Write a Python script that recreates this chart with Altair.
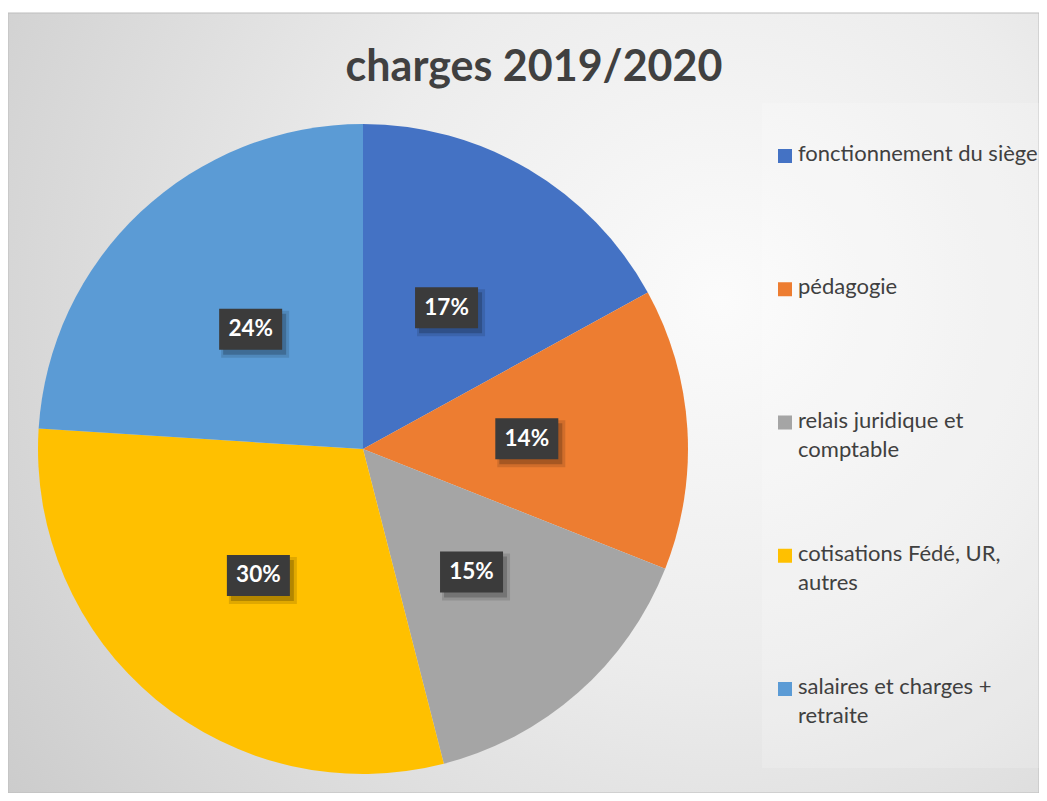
import math
import altair as alt
import pandas as pd

# ---------------- data ----------------
categories = [
    "fonctionnement du siège",
    "pédagogie",
    "relais juridique et comptable",
    "cotisations Fédé, UR, autres",
    "salaires et charges + retraite",
]
legend_texts = [
    "fonctionnement du siège",
    "pédagogie",
    "relais juridique et\ncomptable",
    "cotisations Fédé, UR,\nautres",
    "salaires et charges +\nretraite",
]
values = [17, 14, 15, 30, 24]
labels = ["17%", "14%", "15%", "30%", "24%"]
colors = ["#4472C4", "#ED7D31", "#A5A5A5", "#FFC000", "#5B9BD5"]
title_text = "charges 2019/2020"

# ---------------- layout ----------------
W, H = 1031, 785
CX, CY, R = 355, 441, 325
LABEL_FRAC = 0.505
BOX_HW, BOX_HH = 31.5 / R, 20.5 / R

total = sum(values)
rows = []
cum = 0
for i, (c, v, lab) in enumerate(zip(categories, values, labels)):
    mid = (cum + v / 2) / total * 2 * math.pi
    cum += v
    lx = LABEL_FRAC * math.sin(mid)
    ly = LABEL_FRAC * math.cos(mid)
    rows.append(dict(idx=i, cat=c, value=v, label=lab, legtext=legend_texts[i],
                     lx=lx, ly=ly,
                     bx1=lx - BOX_HW, bx2=lx + BOX_HW, by1=ly - BOX_HH, by2=ly + BOX_HH,
                     sx1=lx - BOX_HW + 4 / R, sx2=lx + BOX_HW + 4 / R,
                     sy1=ly - BOX_HH - 5 / R, sy2=ly + BOX_HH - 5 / R,
                     tx1=lx - BOX_HW + 2 / R, tx2=lx + BOX_HW + 7 / R,
                     ty1=ly - BOX_HH - 8 / R, ty2=ly + BOX_HH - 2 / R))
df = pd.DataFrame(rows)
one = pd.DataFrame({"a": [0]})

xs = alt.Scale(domain=[-CX / R, (W - CX) / R], range=[0, W], nice=False, zero=False)
ys = alt.Scale(domain=[-(H - CY) / R, CY / R], range=[H, 0], nice=False, zero=False)
color_scale = alt.Scale(domain=categories, range=colors)

gradient = {
    "gradient": "radial",
    "x1": 0.69, "y1": 0.40, "r1": 0,
    "x2": 0.69, "y2": 0.40, "r2": 0.9,
    "stops": [
        {"offset": 0.0, "color": "#fbfbfb"},
        {"offset": 0.4, "color": "#ececec"},
        {"offset": 1.0, "color": "#c8c8c8"},
    ],
}

bg = alt.Chart(one).mark_rect(fill=gradient, stroke="#bdbdbd", strokeWidth=1).encode(
    x=alt.value(0), x2=alt.value(W), y=alt.value(5), y2=alt.value(H)
)

panel = alt.Chart(one).mark_rect(fill="white", opacity=0.18).encode(
    x=alt.value(754), x2=alt.value(W), y=alt.value(95), y2=alt.value(760)
)

pie = alt.Chart(df).mark_arc(outerRadius=R).encode(
    theta=alt.Theta("value:Q", stack=True),
    color=alt.Color("cat:N", scale=color_scale, legend=None),
    order=alt.Order("idx:Q"),
    x=alt.value(CX),
    y=alt.value(CY),
)

shadow2 = alt.Chart(df).mark_rect(fill="black", opacity=0.12).encode(
    x=alt.X("tx1:Q", scale=xs, axis=None), x2="tx2:Q",
    y=alt.Y("ty1:Q", scale=ys, axis=None), y2="ty2:Q",
)
shadow = alt.Chart(df).mark_rect(fill="black", opacity=0.2).encode(
    x=alt.X("sx1:Q", scale=xs, axis=None), x2="sx2:Q",
    y=alt.Y("sy1:Q", scale=ys, axis=None), y2="sy2:Q",
)
boxes = alt.Chart(df).mark_rect(fill="#3b3b3b").encode(
    x=alt.X("bx1:Q", scale=xs, axis=None), x2="bx2:Q",
    y=alt.Y("by1:Q", scale=ys, axis=None), y2="by2:Q",
)
label_text = alt.Chart(df).mark_text(
    font="Lato", fontSize=22.5, fontWeight="bold", color="white",
    align="center", baseline="middle",
).encode(
    x=alt.X("lx:Q", scale=xs, axis=None),
    y=alt.Y("ly:Q", scale=ys, axis=None),
    text="label:N",
)

leg_y = alt.Y("cat:N", scale=alt.Scale(domain=categories, range=[148, 681], padding=0), axis=None)
leg_sq = alt.Chart(df).mark_square(size=196, filled=True, opacity=1).encode(
    x=alt.value(777),
    y=leg_y,
    color=alt.Color("cat:N", scale=color_scale, legend=None),
)
leg_txt = alt.Chart(df).mark_text(
    font="Lato", fontSize=22, color="#404040", align="left", baseline="top",
    dy=-12, lineBreak="\n", lineHeight=29,
).encode(
    x=alt.value(790),
    y=leg_y,
    text="legtext:N",
)

title = alt.Chart(one).mark_text(
    text=title_text, font="Lato", fontSize=43, fontWeight="bold", color="#404040",
    align="center", baseline="alphabetic",
).encode(x=alt.value(526), y=alt.value(73))

chart = alt.layer(
    bg, panel, pie, shadow2, shadow, boxes, label_text, leg_sq, leg_txt, title
).resolve_scale(x="independent", y="independent").properties(
    width=W, height=H, autosize=alt.AutoSizeParams(type="none"), padding=0,
    background="white",
).configure_view(stroke=None)

chart.save("out.html", embed_options={"renderer": "svg", "actions": False})
